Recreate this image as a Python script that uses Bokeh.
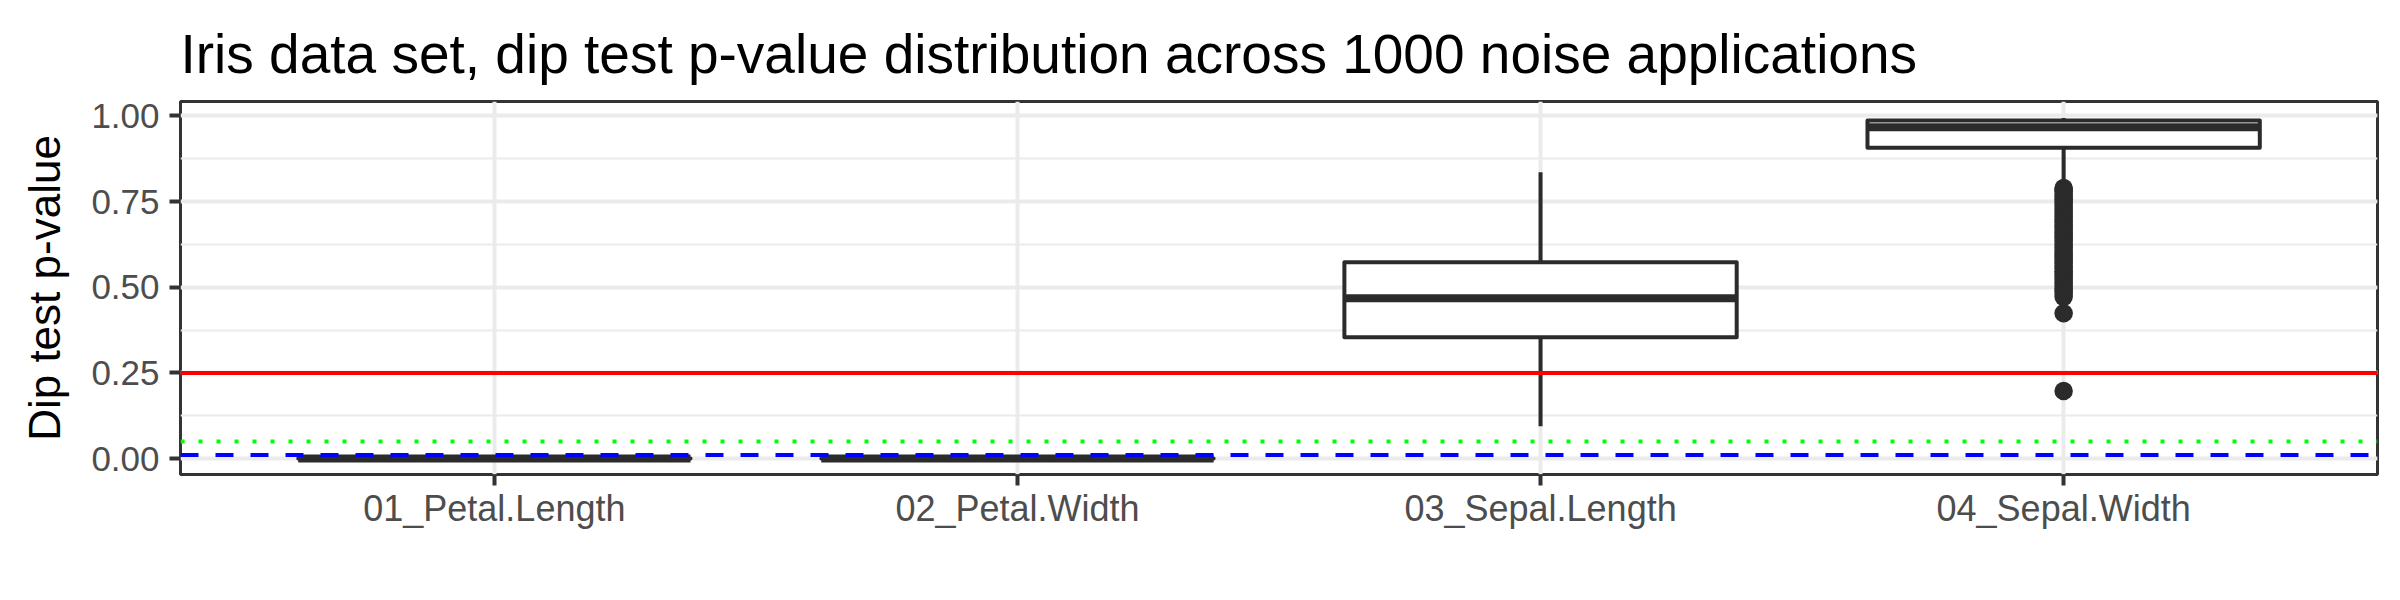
from bokeh.plotting import figure
from bokeh.models import (FactorRange, Range1d, Span, SingleIntervalTicker,
                          NumeralTickFormatter, ColumnDataSource)
from bokeh.transform import dodge
from bokeh.embed import file_html
from bokeh.resources import INLINE

# ---------------- data ----------------
categories = ["01_Petal.Length", "02_Petal.Width", "03_Sepal.Length", "04_Sepal.Width"]
lower_whisker = [0.0, 0.0, 0.094, 0.800]
q1_values = [0.0, 0.0, 0.354, 0.907]
median_values = [0.0, 0.0, 0.468, 0.967]
q3_values = [0.0, 0.0, 0.573, 0.987]
upper_whisker = [0.0, 0.0, 0.836, 0.994]

outlier_category = "04_Sepal.Width"
outlier_values = [0.790, 0.785, 0.780, 0.772, 0.765, 0.757, 0.750, 0.742, 0.735, 0.727,
                  0.720, 0.712, 0.705, 0.697, 0.690, 0.682, 0.675, 0.667, 0.660, 0.652,
                  0.645, 0.637, 0.630, 0.622, 0.615, 0.607, 0.600, 0.592, 0.585, 0.577,
                  0.570, 0.562, 0.555, 0.547, 0.540, 0.532, 0.525, 0.517, 0.510, 0.502,
                  0.495, 0.488, 0.480, 0.472, 0.424, 0.197]

threshold_red = 0.25
threshold_green = 0.05
threshold_blue = 0.01

title_text = "Iris data set, dip test p-value distribution across 1000 noise applications"
y_axis_label = "Dip test p-value"

# ---------------- figure ----------------
FONT = "Liberation Sans"
INK = "#2b2b2b"

p = figure(
    x_range=FactorRange(factors=categories, range_padding=0.1,
                        range_padding_units="absolute"),
    y_range=Range1d(-0.0467, 1.0423),
    frame_width=2197, frame_height=373,
    min_border_left=180, min_border_right=7,
    min_border_top=101, min_border_bottom=110,
    output_backend="svg", toolbar_location=None,
    background_fill_color="white", border_fill_color="white",
)

# title
p.title.text = title_text
p.title.text_font = FONT
p.title.text_font_size = "55px"
p.title.text_font_style = "normal"
p.title.text_color = "black"
p.title.align = "left"
p.title.standoff = 34

# panel border
p.outline_line_color = "#333333"
p.outline_line_width = 3
p.outline_line_alpha = 1.0

# grids
p.xgrid.grid_line_color = "#EBEBEB"
p.xgrid.grid_line_width = 4
p.ygrid.grid_line_color = "#EBEBEB"
p.ygrid.grid_line_width = 4
p.ygrid.minor_grid_line_color = "#EBEBEB"
p.ygrid.minor_grid_line_width = 2

# y axis
p.yaxis.ticker = SingleIntervalTicker(interval=0.25, num_minor_ticks=2)
p.yaxis.formatter = NumeralTickFormatter(format="0.00")
p.yaxis.axis_label = y_axis_label

for ax in (p.xaxis[0], p.yaxis[0]):
    ax.axis_line_color = None
    ax.major_tick_line_color = "#333333"
    ax.major_tick_line_width = 4
    ax.major_tick_out = 11
    ax.major_tick_in = 0
    ax.minor_tick_line_color = None
    ax.major_label_text_font = FONT
    ax.major_label_text_font_size = "35px"
    ax.major_label_text_color = "#4D4D4D"
    ax.axis_label_text_font = FONT
    ax.axis_label_text_font_size = "44px"
    ax.axis_label_text_font_style = "normal"
    ax.axis_label_text_color = "black"

p.xaxis.major_label_text_font_size = "36px"
p.yaxis.major_label_standoff = 10
p.xaxis.major_label_standoff = 2
p.yaxis.axis_label_standoff = 19

# ---------------- boxplots ----------------
box_src = ColumnDataSource(dict(
    cat=categories, lower=lower_whisker, q1=q1_values, med=median_values,
    q3=q3_values, upper=upper_whisker,
))

# whiskers
p.segment(x0="cat", y0="q3", x1="cat", y1="upper", source=box_src,
          line_color=INK, line_width=4)
p.segment(x0="cat", y0="q1", x1="cat", y1="lower", source=box_src,
          line_color=INK, line_width=4)

# boxes
p.vbar(x="cat", width=0.75, top="q3", bottom="q1", source=box_src,
       fill_color="white", line_color=INK, line_width=4, line_join="round")

# medians
p.segment(x0=dodge("cat", -0.375, range=p.x_range), y0="med",
          x1=dodge("cat", 0.375, range=p.x_range), y1="med",
          source=box_src, line_color=INK, line_width=8)

# outliers
out_src = ColumnDataSource(dict(cat=[outlier_category] * len(outlier_values),
                                y=outlier_values))
p.scatter(x="cat", y="y", source=out_src, size=18.5, marker="circle",
          fill_color=INK, line_color=None)

# ---------------- reference lines ----------------
p.add_layout(Span(location=threshold_red, dimension="width",
                  line_color="#FF0000", line_width=4))
p.add_layout(Span(location=threshold_green, dimension="width",
                  line_color="#00FF00", line_width=4, line_dash="4 14"))
p.add_layout(Span(location=threshold_blue, dimension="width",
                  line_color="#0000FF", line_width=4, line_dash="18 17"))

open("out.html", "w").write(file_html(p, INLINE))
